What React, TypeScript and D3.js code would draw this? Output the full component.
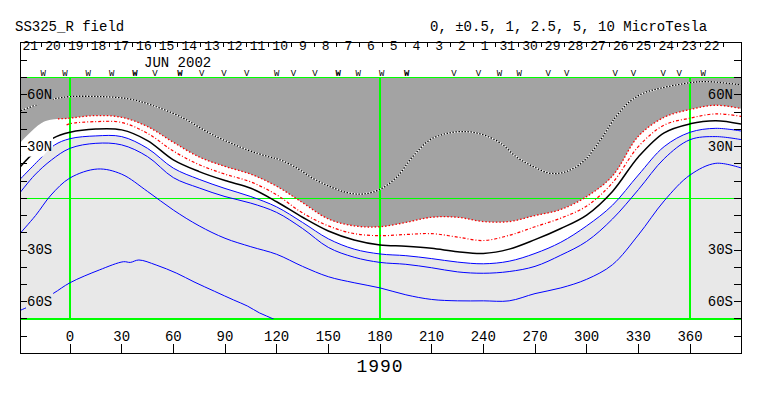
import React from 'react';
import * as d3 from 'd3';

// ---------- data (longitude, latitude) ----------
const dottedLine: [number, number][] = [[-30,50.3],[-17,55.2],[-9,57.7],[0,59],[18,59],[34,57.7],[47,54.2],[64,47.4],[83,36.8],[103,28.1],[115,24.2],[122,22.3],[132,17.4],[141,11.6],[151,6.8],[161,3.3],[170,2.5],[180,5.2],[190,12.6],[199,24.2],[209,33.9],[219,37.7],[230,38.7],[240,36.8],[250,32],[259,24.2],[269,18.4],[279,14.5],[288,15.5],[298,21.3],[308,33.9],[317,47.4],[325,56.1],[333,61],[343,63.9],[360,67.1],[370,67.7],[390,65.8]];

const grayEdge: [number, number][] = [[-30,31],[-15,44.5],[0,46.5],[15,48],[30,47],[45,41.6],[60,32.5],[75,24],[90,18.5],[105,14],[120,7],[135,-2.5],[150,-12],[165,-16],[180,-16.5],[195,-14],[210,-11],[225,-11],[240,-13.5],[255,-13.5],[270,-10],[285,-6.5],[300,1],[315,13],[330,36],[345,47],[360,51.5],[375,54],[390,52]];

const redInner: [number, number][] = [[-2,42.5],[0,43.3],[15,44.5],[30,44],[45,37.7],[60,27.4],[75,19.5],[90,14],[105,9.5],[120,2],[135,-8.5],[150,-16],[165,-20.5],[180,-21.7],[195,-21],[210,-20.5],[225,-22.5],[240,-24.5],[255,-21.5],[270,-16.5],[285,-11.5],[300,-4.5],[315,9],[330,30],[345,42.5],[360,46.5],[375,49],[390,47.5]];
const redInnerFragment: [number, number][] = [[-30,23.5],[-28.5,25]];

const blackLine: [number, number][] = [[-30,17],[-22,25.5],[-10,34.8],[0,38.3],[15,40.2],[30,39.7],[45,33.5],[60,22.3],[75,15.5],[90,10.3],[105,5.8],[120,-2],[135,-11],[150,-19],[165,-24.2],[180,-27.1],[195,-27.8],[210,-29],[225,-31],[240,-32],[255,-29.5],[270,-24],[285,-17.5],[300,-9.7],[315,4],[330,24],[345,38],[360,43.2],[375,45],[390,43]];

const blueE: [number, number][] = [[-30,10],[-15.7,24.6],[-9,30.9],[0,34.6],[15,36.2],[30,35.8],[45,29],[60,17.5],[75,11],[90,5.7],[105,1],[120,-5],[135,-14],[150,-23.5],[165,-29.5],[180,-32.3],[195,-33.3],[210,-35],[225,-37],[240,-38],[255,-36.5],[270,-32],[285,-25.5],[300,-16],[315,-4],[330,13.5],[345,30],[360,38.3],[375,40.6],[390,39]];

const blueF: [number, number][] = [[-30,2],[-20.5,13.5],[-10.8,22.2],[0,29],[15,31.9],[30,31],[45,24.2],[60,12],[75,6],[90,1],[105,-2.8],[120,-8.2],[135,-17.5],[150,-28.5],[165,-34.2],[180,-37.2],[195,-38.3],[210,-40.3],[225,-42.7],[240,-43.5],[255,-42.5],[270,-39.5],[285,-33],[300,-25],[315,-12],[330,5],[345,23],[360,34],[375,35.8],[390,34]];

const blueG: [number, number][] = [[-30,-21.5],[-20,-10],[-11,1.9],[0,11.8],[16,17],[30,14],[45,4],[60,-6.8],[75,-16],[90,-23.2],[105,-28.1],[120,-32.5],[135,-39.5],[150,-45.5],[165,-49],[180,-52],[195,-56],[210,-58.7],[225,-59.5],[240,-59.5],[255,-59.5],[270,-55.3],[285,-52],[300,-47],[315,-38.5],[330,-21.3],[345,-1.5],[360,13.5],[375,20.3],[390,17.5]];

const blueH: [number, number][] = [[-30,-65.5],[-20,-61],[-9.7,-55.2],[0,-49],[17,-41.6],[31,-36.8],[35,-37.2],[40,-35.8],[50,-38.7],[62,-43.5],[72,-48.5],[84,-54],[95,-59],[103,-62.5],[110,-66.5],[118,-70],[125,-74]];

const dayLabels = [21,20,19,18,17,16,15,14,13,12,11,10,9,8,7,6,5,4,3,2,1,31,30,29,28,27,26,25,24,23,22];
const lonTicks = [0,30,60,90,120,150,180,210,240,270,300,330,360];
const latLabels = [60, 30, -30, -60];
const refMeridians = [0, 180, 360];
const refParallels = [70, 0, -70];
const markerLons = [-15.5,-2.9,10.6,24.2,37.7,49.4,63.9,76.5,89.4,102.6,120,129.7,142.3,155.8,167.4,181,195.5,223,237.1,249.3,260.9,277.7,288.4,316.5,327.1,344.5,353.8,367.7];
const markerKinds = ['W','W','W','W','W','V','W','V','V','V','W','V','V','W','W','W','W','V','V','W','W','V','V','V','V','V','V','W'];
const markerBold = [false,false,false,false,true,false,true,false,false,false,false,false,false,true,false,false,true,false,false,false,false,false,false,false,false,false,false,false];

const FONT = "'Liberation Mono', 'DejaVu Sans Mono', monospace";

export default function App() {
  const W = 763, H = 396;
  const x = d3.scaleLinear().domain([0, 360]).range([70, 690]);
  const y = d3.scaleLinear().domain([90, -90]).range([43.2, 353.4]);
  const left = 20, right = 741;
  const frameTop = 42, frameBottom = 353.5;
  const pTop = y(70), pBot = y(-70);

  const line = d3.line<[number, number]>()
    .x(d => x(d[0]))
    .y(d => y(d[1]))
    .curve(d3.curveCatmullRom.alpha(0.5));

  const bPath = line(grayEdge) as string;
  const grayPath = bPath + `L${x(390)},${pTop - 2}L${x(-30)},${pTop - 2}Z`;
  const eRev = (line([...blueE].reverse()) as string).replace(/^M/, 'L');
  const whitePath = bPath + eRev + 'Z';

  const days = d3.scaleBand<string>().domain(dayLabels.map(String)).range([19, 723]).paddingInner(0);
  const latTicks = d3.range(-80, 81, 10);

  return (
    <svg width={W} height={H} style={{ position: 'absolute', left: 0, top: 0, background: '#fff' }} fontFamily={FONT}>
      <defs>
        <clipPath id="plotClip">
          <rect x={left} y={pTop} width={right - left} height={pBot - pTop} />
        </clipPath>
        <clipPath id="redClip">
          <rect x={x(-7)} y={pTop} width={right - x(-7)} height={pBot - pTop} />
        </clipPath>
        <mask id="lblMask" maskUnits="userSpaceOnUse" x={0} y={0} width={W} height={H}>
          <rect x={0} y={0} width={W} height={H} fill="#fff" />
          {latLabels.map(l => (
            <rect key={l} x={26} y={y(l) - 10} width={27} height={20} fill="#000" />
          ))}
        </mask>
      </defs>

      {/* header */}
      <text x={15} y={31} fontSize={14} fill="#000">SS325_R field</text>
      <text x={430} y={31} fontSize={14} fill="#000">0, ±0.5, 1, 2.5, 5, 10 MicroTesla</text>

      {/* plot fills */}
      <g clipPath="url(#plotClip)">
        <rect x={left} y={pTop} width={right - left} height={pBot - pTop} fill="#e8e8e8" />
        <path d={whitePath} fill="#ffffff" />
        <path d={grayPath} fill="#a3a3a3" />
      </g>

      {/* reference green lines */}
      <g stroke="#00ff00" strokeWidth={1.2} shapeRendering="crispEdges">
        {refParallels.map(p => (
          <line key={'p' + p} x1={left} x2={right} y1={y(p)} y2={y(p)} />
        ))}
        {refMeridians.map(m => (
          <line key={'m' + m} x1={x(m)} x2={x(m)} y1={pTop} y2={pBot} />
        ))}
      </g>

      {/* contour lines */}
      <g clipPath="url(#plotClip)">
        <g mask="url(#lblMask)" fill="none">
          <path d={line(dottedLine) as string} stroke="#ffffff" strokeWidth={1.3} />
          <path d={line(dottedLine) as string} stroke="#000" strokeWidth={1.3} strokeDasharray="1.5,1.5" />
          <path d={line(blueH) as string} stroke="#0000ff" strokeWidth={1} />
          <path d={line(blueG) as string} stroke="#0000ff" strokeWidth={1} />
          <path d={line(blueF) as string} stroke="#0000ff" strokeWidth={1} />
          <path d={line(blueE) as string} stroke="#0000ff" strokeWidth={1} />
          <path d={line(blackLine) as string} stroke="#000" strokeWidth={1.5} />
          <path d={line(redInner) as string} stroke="#ff0000" strokeWidth={1.2} strokeDasharray="3,2,1,2" />
          <path d={line(redInnerFragment) as string} stroke="#ff0000" strokeWidth={1.2} strokeDasharray="1,2" />
          <path d={bPath} stroke="#ff0000" strokeWidth={1.3} strokeDasharray="1.5,2" clipPath="url(#redClip)" />
        </g>
      </g>

      {/* frame */}
      <g stroke="#000" strokeWidth={1} shapeRendering="crispEdges" fill="none">
        <line x1={left} x2={right} y1={frameTop} y2={frameTop} />
        <line x1={left} x2={right} y1={frameBottom} y2={frameBottom} />
        <line x1={left} x2={left} y1={frameTop} y2={frameBottom} />
        <line x1={right} x2={right} y1={frameTop} y2={frameBottom} />
        {latTicks.map(t => (
          <g key={'lt' + t}>
            <line x1={left} x2={left + 7} y1={y(t)} y2={y(t)} />
            <line x1={right - 7} x2={right} y1={y(t)} y2={y(t)} />
          </g>
        ))}
        {lonTicks.map(t => (
          <line key={'bt' + t} x1={x(t)} x2={x(t)} y1={frameBottom - 10} y2={frameBottom} />
        ))}
        {dayLabels.map((d, i) => {
          const xe = (days(String(d)) as number) + days.bandwidth();
          return <line key={'ds' + i} x1={xe} x2={xe} y1={frameTop} y2={frameTop + 5} />;
        })}
      </g>

      {/* lat labels */}
      {latLabels.map(l => {
        const t = `${Math.abs(l)}${l > 0 ? 'N' : 'S'}`;
        return (
          <g key={'ll' + l} fontSize={14} fill="#000">
            <text x={27} y={y(l) + 4}>{t}</text>
            <text x={733} y={y(l) + 4} textAnchor="end">{t}</text>
          </g>
        );
      })}

      {/* lon labels */}
      {lonTicks.map(t => (
        <text key={'lb' + t} x={x(t)} y={341} fontSize={14} textAnchor="middle" fill="#000">{t}</text>
      ))}
      <text x={380} y={372} fontSize={18} textAnchor="middle" fill="#000" letterSpacing={1}>1990</text>

      {/* day row */}
      {dayLabels.map((d, i) => (
        <text key={'d' + i} x={(days(String(d)) as number) + days.bandwidth() / 2} y={50} fontSize={13} textAnchor="middle" fill="#000">{d}</text>
      ))}
      <text x={144} y={66.5} fontSize={14} fill="#000">JUN 2002</text>

      {/* pass markers */}
      {markerLons.map((m, i) => (
        <text key={'mk' + i} x={x(m)} y={76} fontSize={9} textAnchor="middle" fill="#000" fontWeight={markerBold[i] ? 'bold' : 'normal'}>{markerKinds[i]}</text>
      ))}
    </svg>
  );
}
